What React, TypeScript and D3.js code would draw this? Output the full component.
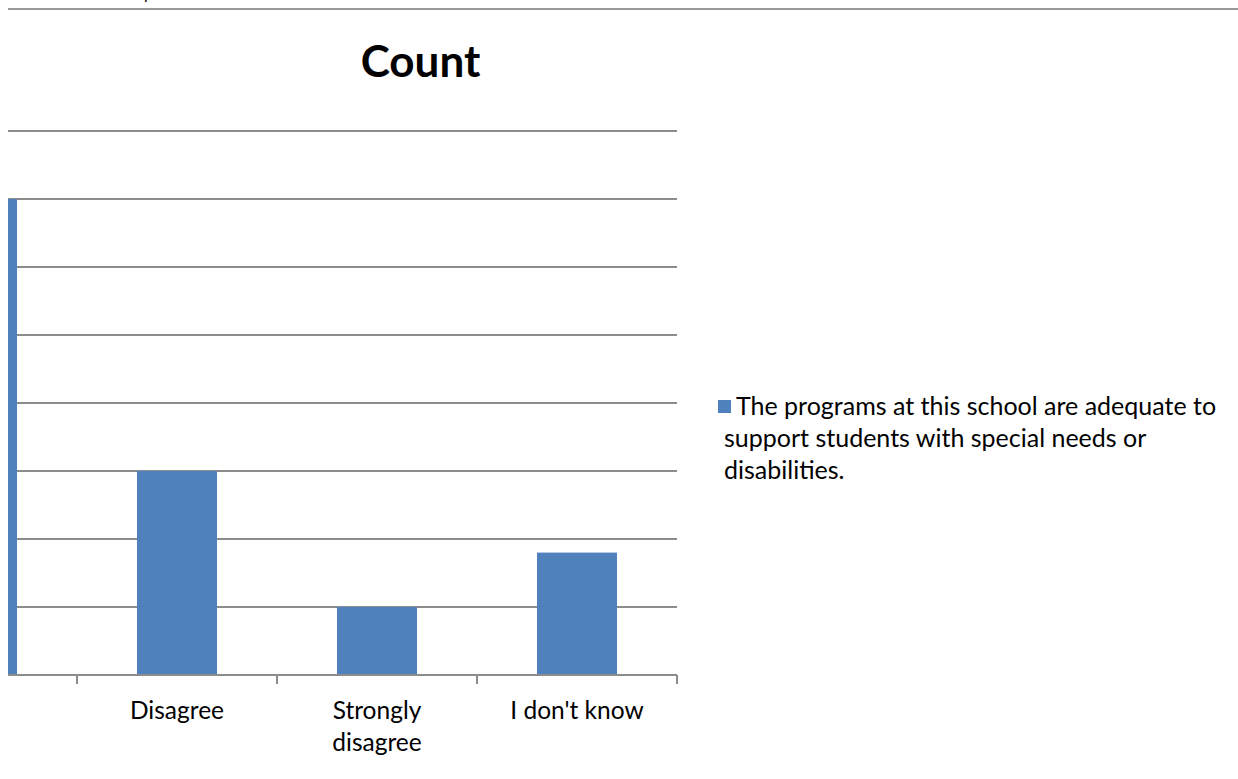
import React from "react";
import * as d3 from "d3";

const categories = ["Agree", "Disagree", "Strongly disagree", "I don't know"];
const counts = [35, 15, 5, 9];
const yTicks = [5, 10, 15, 20, 25, 30, 35, 40];
const seriesName = "The programs at this school are adequate to support students with special needs or disabilities.";
const legendLines = ["The programs at this school are adequate to", "support students with special needs or", "disabilities."];
const categoryLines: Record<string, string[]> = {
  "Agree": ["Agree"],
  "Disagree": ["Disagree"],
  "Strongly disagree": ["Strongly", "disagree"],
  "I don't know": ["I don't know"],
};

const W = 1238;
const H = 779;
const VIEW_LEFT = 8;
const FONT = "Lato, 'Open Sans', sans-serif";
const BAR = "#4F81BD";
const GRID = "#8C8C8C";

export default function App() {
  const x = d3.scaleBand<string>().domain(categories).range([-123, 677]).paddingInner(0.6).paddingOuter(0.3);
  const y = d3.scaleLinear().domain([0, 40]).range([675, 131]);
  const step = x.step();
  const boundaries = categories.map((c) => (x(c) as number) - step * 0.3);
  boundaries.push(boundaries[boundaries.length - 1] + step);
  const center = (c: string) => (x(c) as number) + x.bandwidth() / 2;
  const visibleLabels = categories.filter((c) => center(c) - step / 2 >= VIEW_LEFT - 1);

  return (
    <svg width={W} height={H} style={{ position: "absolute", left: 0, top: 0, background: "#fff" }}>
      <defs>
        <clipPath id="plotclip">
          <rect x={VIEW_LEFT} y={0} width={W - VIEW_LEFT} height={H} />
        </clipPath>
      </defs>
      <g clipPath="url(#plotclip)">
        <text x={144} y={-1} fontFamily={FONT} fontSize={16} fill="#000">p</text>
        <line x1={VIEW_LEFT} x2={W} y1={9} y2={9} stroke="#999" strokeWidth={2} />
        <text x={420.5} y={77} textAnchor="middle" fontFamily={FONT} fontWeight="bold" fontSize={44} fill="#000">
          Count
        </text>
        {yTicks.map((t) => (
          <line key={t} x1={-123} x2={677} y1={y(t)} y2={y(t)} stroke={GRID} strokeWidth={2} />
        ))}
        {categories.map((c, i) => (
          <rect key={c} x={x(c)} y={y(counts[i])} width={x.bandwidth()} height={y(0) - y(counts[i])} fill={BAR} />
        ))}
        <line x1={-123} x2={677} y1={y(0)} y2={y(0)} stroke={GRID} strokeWidth={2} />
        {boundaries.map((b, i) => (
          <line key={i} x1={b} x2={b} y1={y(0)} y2={y(0) + 9} stroke={GRID} strokeWidth={2} />
        ))}
        {visibleLabels.map((c) => (
          <text key={c} textAnchor="middle" fontFamily={FONT} fontSize={24.5} fill="#000">
            {categoryLines[c].map((ln, j) => (
              <tspan key={j} x={center(c)} y={719 + j * 32}>
                {ln}
              </tspan>
            ))}
          </text>
        ))}
      </g>
      <g aria-label={seriesName}>
        <rect x={718} y={400} width={13} height={13} fill={BAR} />
        <text fontFamily={FONT} fontSize={25} fill="#000">
          {legendLines.map((ln, j) => (
            <tspan key={j} x={j === 0 ? 736 : 724} y={415 + j * 32}>
              {ln}
            </tspan>
          ))}
        </text>
      </g>
    </svg>
  );
}
